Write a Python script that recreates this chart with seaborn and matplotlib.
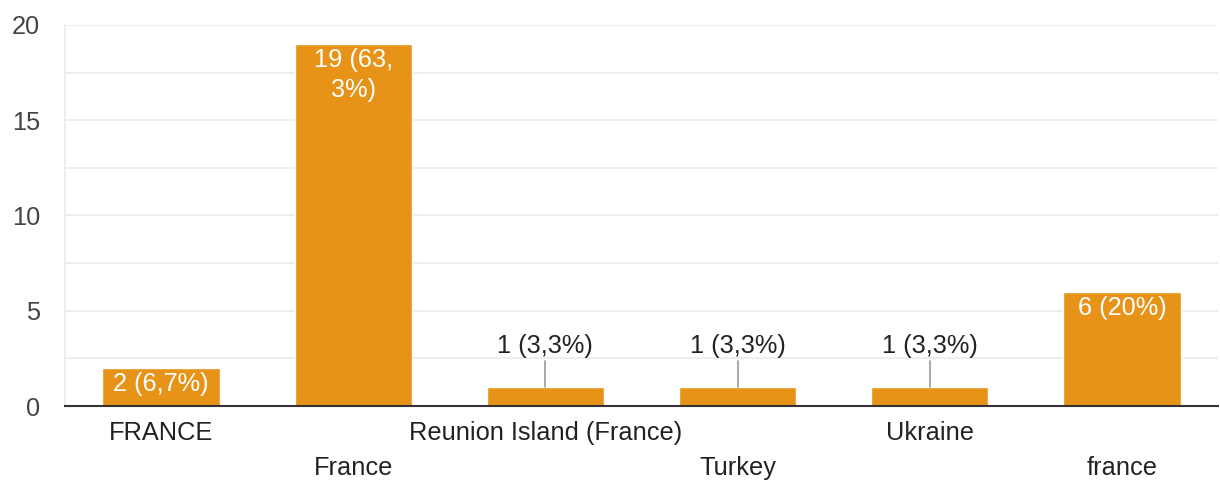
import matplotlib
matplotlib.use("Agg")
import matplotlib.pyplot as plt
import seaborn as sns
import pandas as pd

categories = ["FRANCE", "France", "Reunion Island (France)", "Turkey", "Ukraine", "france"]
counts = [2, 19, 1, 1, 1, 6]
labels = ["2 (6,7%)", "19 (63,\n3%)", "1 (3,3%)", "1 (3,3%)", "1 (3,3%)", "6 (20%)"]
yticks = [0, 5, 10, 15, 20]

sns.set_theme(style="white")
plt.rcParams['font.family'] = ['Liberation Sans', 'DejaVu Sans']

FS = 18.3

fig = plt.figure(figsize=(12.2, 4.83), dpi=100)
ax = fig.add_axes([65/1220, 77/483, (1218-65)/1220, (406-25)/483])

df = pd.DataFrame({"cat": categories, "n": counts})
sns.barplot(data=df, x="cat", y="n", color="#E69317", saturation=1, width=0.61, ax=ax, zorder=3)

ax.set_xlim(-0.5, 5.5)
ax.set_ylim(0, 20)
for v in [2.5*i for i in range(1, 9)]:
    ax.axhline(v, color="#EBEBEB", lw=1.2, zorder=0)
ax.set_yticks(yticks)
ax.set_yticklabels([str(t) for t in yticks], fontsize=FS, color="#444444")
ax.tick_params(axis="y", length=0, pad=18)
ax.tick_params(axis="x", length=0)
ax.set_xticks(range(len(categories)))
ax.set_xticklabels([])
for i, c in enumerate(categories):
    yoff = -0.072 if i % 2 == 0 else -0.162
    ax.text(i, yoff, c, transform=ax.get_xaxis_transform(), ha="center", va="center",
            fontsize=FS, color="#222222")
ax.set_xlabel("")
ax.set_ylabel("")
for s in ["top", "right"]:
    ax.spines[s].set_visible(False)
ax.spines["left"].set_color("#EBEBEB")
ax.spines["left"].set_linewidth(1.2)
ax.spines["bottom"].set_color("#333333")
ax.spines["bottom"].set_linewidth(1.5)
ax.spines["bottom"].set_zorder(5)

for i, (n, lab) in enumerate(zip(counts, labels)):
    if n >= 2:
        ax.annotate(lab, xy=(i, n), xytext=(0, -3), textcoords="offset points",
                    ha="center", va="top", fontsize=FS, color="white", zorder=6,
                    linespacing=1.3)
    else:
        ax.plot([i, i], [n, n + 1.35], color="#999999", lw=1.2, zorder=4)
        ax.text(i, n + 1.5, lab, ha="center", va="bottom", fontsize=FS, color="#222222", zorder=6)

fig.savefig("out.png", dpi=100)
